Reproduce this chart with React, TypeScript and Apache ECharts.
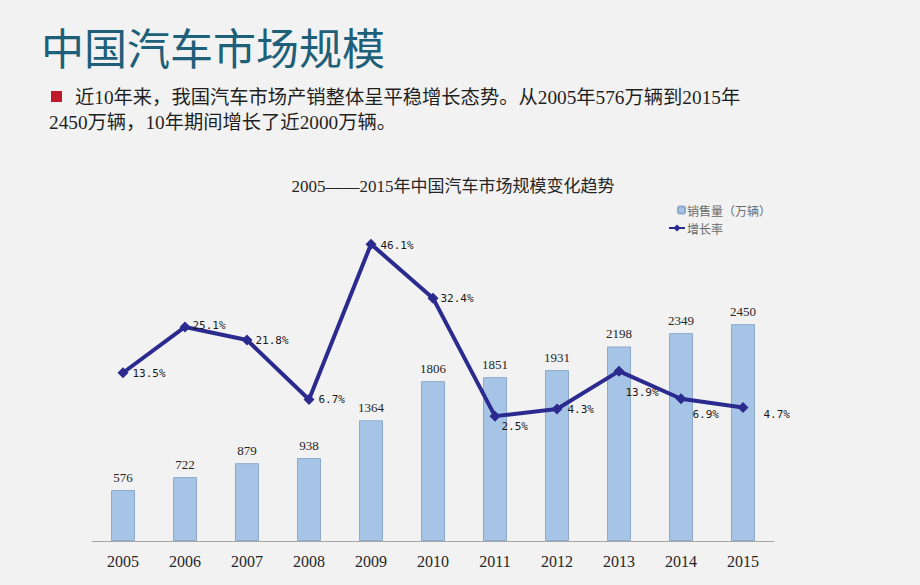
import React, { useEffect, useRef } from "react";
import * as echarts from "echarts";

const years = ["2005", "2006", "2007", "2008", "2009", "2010", "2011", "2012", "2013", "2014", "2015"];
const sales = [576, 722, 879, 938, 1364, 1806, 1851, 1931, 2198, 2349, 2450];
const growth = [13.5, 25.1, 21.8, 6.7, 46.1, 32.4, 2.5, 4.3, 13.9, 6.9, 4.7];
const salesName = "销售量（万辆）";
const growthName = "增长率";
const pageTitle = "中国汽车市场规模";
const noteLine1 = "近10年来，我国汽车市场产销整体呈平稳增长态势。从2005年576万辆到2015年";
const noteLine2 = "2450万辆，10年期间增长了近2000万辆。";
const chartTitle = "2005——2015年中国汽车市场规模变化趋势";

// label offsets for the growth-rate labels (style only)
const labelOffsets: number[][] = [
  [1, 1], [-1, -1], [0, 1], [1, 0], [1, 1], [-1, 0], [-2, 10], [2, 0], [-2, 21], [3, 16], [12, 7],
];

const SERIF_CJK = "'Liberation Serif', 'Noto Sans CJK SC', serif";
const CJK = "'Noto Sans CJK SC', sans-serif";

export default function App() {
  const ref = useRef<HTMLDivElement>(null);
  useEffect(() => {
    document.body.style.margin = "0";
    const chart = echarts.init(ref.current!, null, { renderer: "svg" });
    chart.setOption({
      animation: false,
      backgroundColor: "#f2f2f2",
      title: [
        {
          text: pageTitle,
          left: 41,
          top: 24,
          padding: 0,
          textStyle: { fontFamily: CJK, fontSize: 43, fontWeight: "normal", color: "#1e5f79", lineHeight: 43 },
        },
        {
          text: chartTitle,
          left: 453,
          top: 177,
          textAlign: "center",
          padding: 0,
          textStyle: { fontFamily: SERIF_CJK, fontSize: 17, fontWeight: "normal", color: "#262626", lineHeight: 18 },
        },
      ],
      graphic: [
        { type: "rect", shape: { x: 51, y: 91, width: 11, height: 11 }, style: { fill: "#c0182a" } },
        {
          type: "text",
          x: 75,
          y: 97,
          style: { text: noteLine1, font: `19.3px ${SERIF_CJK}`, fill: "#1f1f1f", verticalAlign: "middle" },
        },
        {
          type: "text",
          x: 49,
          y: 122,
          style: { text: noteLine2, font: `19.3px ${SERIF_CJK}`, fill: "#1f1f1f", verticalAlign: "middle" },
        },
      ],
      legend: [
        {
          data: [salesName],
          left: 677,
          top: 204,
          padding: 0,
          itemWidth: 7,
          itemHeight: 7,
          itemGap: 4,
          textStyle: { fontFamily: CJK, fontSize: 12, color: "#6b6b6b", padding: [0, 0, 0, -3] },
        },
        {
          data: [growthName],
          left: 668,
          top: 222,
          padding: 0,
          itemWidth: 16,
          itemHeight: 9,
          textStyle: { fontFamily: CJK, fontSize: 12, color: "#6b6b6b", padding: [0, 0, 0, -3] },
        },
      ],
      grid: { left: 92, right: 146, top: 187, bottom: 44 },
      xAxis: {
        type: "category",
        data: years,
        axisLine: { lineStyle: { color: "#a6a6a6", width: 1 } },
        axisTick: { inside: true, length: 4, lineStyle: { color: "#a6a6a6" } },
        axisLabel: { fontFamily: "'Liberation Serif', serif", fontSize: 16, color: "#262626", margin: 12 },
      },
      yAxis: [
        { type: "value", min: 0, max: 4000, show: false, splitLine: { show: false } },
        { type: "value", min: -29.15, max: 60.58, show: false, splitLine: { show: false } },
      ],
      series: [
        {
          name: salesName,
          type: "bar",
          data: sales,
          barWidth: 24,
          itemStyle: { color: "#a6c5e6", borderColor: "#8eaacb", borderWidth: 1 },
          label: {
            show: true,
            position: "top",
            distance: 6,
            fontFamily: "'Liberation Serif', serif",
            fontSize: 13,
            color: "#262626",
          },
        },
        {
          name: growthName,
          type: "line",
          yAxisIndex: 1,
          z: 5,
          data: growth.map((v, i) => ({ value: v, label: { offset: labelOffsets[i] } })),
          symbol: "diamond",
          symbolSize: 11,
          lineStyle: { color: "#2b2b8f", width: 4 },
          itemStyle: { color: "#2b2b8f" },
          label: {
            show: true,
            position: "right",
            distance: 3,
            formatter: "{c}%",
            fontFamily: "'DejaVu Sans Mono', monospace",
            fontSize: 11,
            color: "#1a1a1a",
          },
        },
      ],
    });
    return () => chart.dispose();
  }, []);
  return <div ref={ref} style={{ width: 920, height: 585 }} />;
}
